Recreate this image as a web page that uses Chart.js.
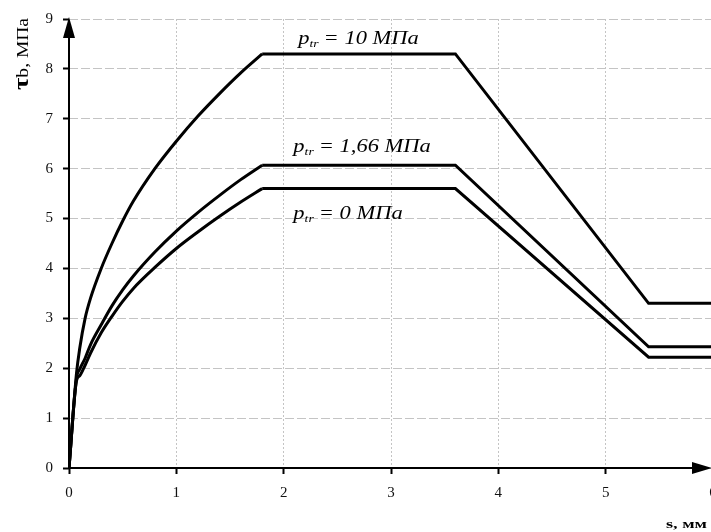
<!DOCTYPE html>
<html>
<head>
<meta charset="utf-8">
<script src="https://cdn.jsdelivr.net/npm/chart.js@4"></script>
<style>
  html, body { margin: 0; padding: 0; overflow: hidden; background: #fff; }
  #wrap { width: 730px; height: 532px; }
</style>
</head>
<body>
<div id="wrap"><canvas id="chart" width="730" height="532"></canvas></div>
<script>
// slip s, mm -- rising (curved) branch
const slipRise = [0, 0.07, 0.1, 0.15, 0.2, 0.3, 0.4, 0.5, 0.6, 0.8, 1.0, 1.2, 1.4, 1.6, 1.8];
// slip s, mm -- plateau, softening and residual branch
const slipFlat = [1.8, 3.6, 5.4, 6.0];

// bond stress tau_b, MPa
const rise10 = [0, 1.9, 2.4, 3.0, 3.4, 4.0, 4.5, 4.95, 5.35, 6.0, 6.55, 7.05, 7.5, 7.92, 8.3];
const rise166 = [0, 1.8, 1.98, 2.2, 2.47, 2.87, 3.25, 3.57, 3.85, 4.33, 4.75, 5.12, 5.46, 5.78, 6.07];
const rise0 = [0, 1.75, 1.85, 2.06, 2.3, 2.71, 3.04, 3.34, 3.6, 4.02, 4.4, 4.73, 5.04, 5.33, 5.6];
const flat10 = [8.3, 8.3, 3.3, 3.3];
const flat166 = [6.07, 6.07, 2.43, 2.43];
const flat0 = [5.6, 5.6, 2.22, 2.22];

const xTicks = [0, 1, 2, 3, 4, 5, 6];
const yTicks = [0, 1, 2, 3, 4, 5, 6, 7, 8, 9];
const curveLabels = [
  { value: "10 МПа", x: 2.135, y: 8.5 },
  { value: "1,66 МПа", x: 2.09, y: 6.33 },
  { value: "0 МПа", x: 2.09, y: 5.0 },
];

const serif = "'Liberation Serif', 'DejaVu Serif', serif";

function toPoints(xs, ys) {
  return xs.map((x, i) => ({ x: x, y: ys[i] }));
}

const decor = {
  id: "decor",
  afterDraw(chart) {
    const ctx = chart.ctx;
    const xs = chart.scales.x, ys = chart.scales.y;
    const x0 = xs.getPixelForValue(0), y0 = ys.getPixelForValue(0);
    const yTop = ys.getPixelForValue(9);
    ctx.save();
    // axes with arrows
    ctx.strokeStyle = "#000";
    ctx.lineWidth = 2;
    ctx.beginPath();
    ctx.moveTo(x0, y0); ctx.lineTo(x0, yTop + 10);
    ctx.moveTo(x0, y0); ctx.lineTo(700, y0);
    ctx.stroke();
    ctx.fillStyle = "#000";
    ctx.beginPath();
    ctx.moveTo(x0, yTop - 2); ctx.lineTo(x0 - 6, yTop + 19); ctx.lineTo(x0 + 6, yTop + 19); ctx.closePath();
    ctx.fill();
    ctx.beginPath();
    ctx.moveTo(712, y0); ctx.lineTo(692, y0 - 6); ctx.lineTo(692, y0 + 6); ctx.closePath();
    ctx.fill();

    // curve labels (wide italic serif)
    curveLabels.forEach(l => {
      const px = xs.getPixelForValue(l.x), py = ys.getPixelForValue(l.y);
      ctx.save();
      ctx.translate(px, py);
      ctx.scale(1.25, 1);
      ctx.textBaseline = "alphabetic";
      ctx.textAlign = "left";
      let cx = 0;
      ctx.font = "italic 18px " + serif;
      ctx.fillText("p", cx, 0);
      cx += ctx.measureText("p").width;
      ctx.font = "italic 11px " + serif;
      ctx.fillText("tr", cx, 3);
      cx += ctx.measureText("tr").width + 4;
      ctx.font = "italic 18px " + serif;
      ctx.fillText("= " + l.value, cx, 0);
      ctx.restore();
    });

    // y axis title
    ctx.save();
    ctx.translate(28, 90);
    ctx.rotate(-Math.PI / 2);
    ctx.scale(1.22, 1);
    ctx.textAlign = "left";
    ctx.font = "bold 22px " + serif;
    ctx.fillText("τ", 0, 0);
    const w = ctx.measureText("τ").width;
    ctx.font = "16px " + serif;
    ctx.fillText("b, МПа", w, 0);
    ctx.restore();

    // x axis title
    ctx.save();
    ctx.translate(666, 528);
    ctx.scale(1.4, 1);
    ctx.font = "bold 13px " + serif;
    ctx.textAlign = "left";
    ctx.fillText("s, мм", 0, 0);
    ctx.restore();
    ctx.restore();
  },
};

function series(label, xs, ys, curved) {
  return {
    label: label,
    data: toPoints(xs, ys),
    borderColor: "#000",
    borderWidth: 3,
    pointRadius: 0,
    fill: false,
    tension: 0,
    cubicInterpolationMode: curved ? "monotone" : "default",
    borderJoinStyle: "miter",
  };
}

new Chart(document.getElementById("chart"), {
  type: "line",
  data: {
    datasets: [
      series("p_tr = 10 МПа", slipRise, rise10, true),
      series("p_tr = 10 МПа", slipFlat, flat10, false),
      series("p_tr = 1,66 МПа", slipRise, rise166, true),
      series("p_tr = 1,66 МПа", slipFlat, flat166, false),
      series("p_tr = 0 МПа", slipRise, rise0, true),
      series("p_tr = 0 МПа", slipFlat, flat0, false),
    ],
  },
  options: {
    responsive: false,
    animation: false,
    layout: { padding: { left: 0, right: 17, top: 18, bottom: 0 } },
    plugins: { legend: { display: false }, tooltip: { enabled: false } },
    scales: {
      x: {
        type: "linear",
        min: 0,
        max: 6,
        afterBuildTicks: s => { s.ticks = xTicks.map(v => ({ value: v })); },
        afterFit: s => { s.height = 64; },
        ticks: { color: "#111", font: { family: serif, size: 15 }, padding: 10, maxRotation: 0 },
        grid: { color: "#c4c4c4", lineWidth: 1, tickColor: "#000", tickLength: 6, tickWidth: 2 },
        border: { display: false, dash: [2, 2] },
      },
      y: {
        min: 0,
        max: 9,
        afterBuildTicks: s => { s.ticks = yTicks.map(v => ({ value: v })); },
        afterFit: s => { s.width = 69; },
        ticks: { color: "#111", font: { family: serif, size: 15 }, padding: 10 },
        grid: { color: "#c4c4c4", lineWidth: 1, tickColor: "#000", tickLength: 6, tickWidth: 2 },
        border: { display: false, dash: [9, 3] },
      },
    },
  },
  plugins: [decor],
});
</script>
</body>
</html>
